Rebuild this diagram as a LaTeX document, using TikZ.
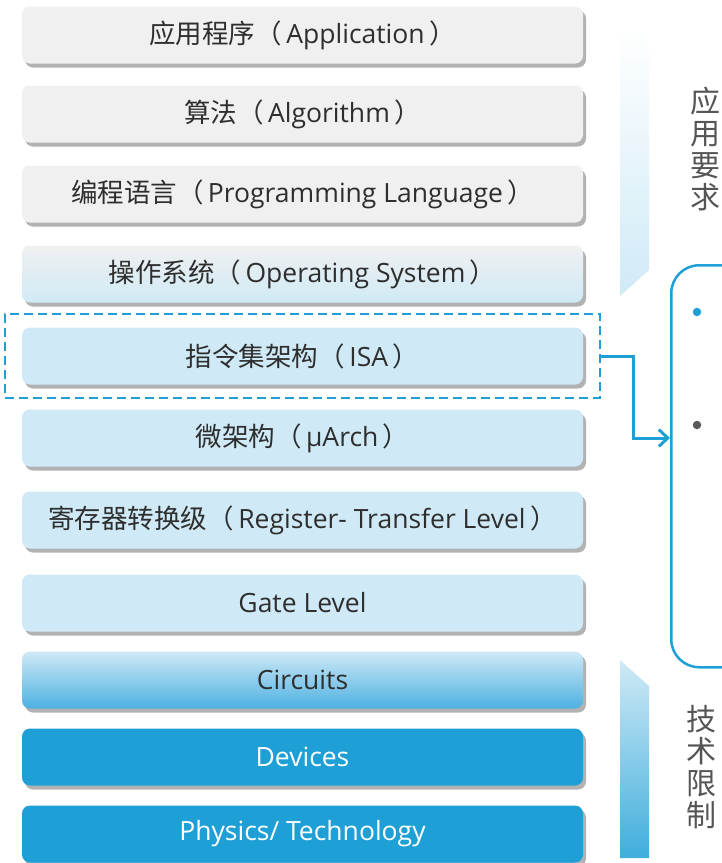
\documentclass[tikz,border=0pt]{standalone}
\usepackage{fontspec}
\setmainfont{Open Sans}
\newfontfamily\cjk{Noto Sans CJK SC}
\usetikzlibrary{shadows,arrows.meta,calc}

\definecolor{txt}{HTML}{2E2E2E}
\definecolor{paleGray}{HTML}{F0F0F0}
\definecolor{paleBlue}{HTML}{CFEAF6}
\definecolor{midBlue}{HTML}{4CB0E1}
\definecolor{deepBlue}{HTML}{1E9FD6}
\definecolor{sideTxt}{HTML}{555555}

\tikzset{
  layer/.style={rounded corners=8pt, minimum width=561pt, minimum height=57pt,
    inner sep=0pt, text=txt, font=\fontsize{26.5}{30}\selectfont,
    drop shadow={shadow xshift=3pt, shadow yshift=-4pt, fill=black, opacity=0.3}},
  graylayer/.style={layer, fill=paleGray},
  bluelayer/.style={layer, fill=paleBlue},
  darklayer/.style={layer, fill=deepBlue, text=white},
  sidetext/.style={text=sideTxt, font=\cjk\fontsize{30}{32}\selectfont, align=center, inner sep=0pt},
  link/.style={draw=deepBlue, line width=3pt},
  dot/.style={circle, inner sep=0pt, minimum size=8.5pt}
}
% Chinese name followed by its English term in full-width brackets
\newcommand{\cnen}[2]{{\cjk #1（}\,#2\,{\cjk ）}}

\begin{document}
\begin{tikzpicture}[x=1pt, y=-1pt]
\useasboundingbox (0,0) rectangle (722,863);
\clip (0,0) rectangle (722,863);

% ---- stack of abstraction layers ----
\node[graylayer] (app) at (302.5,35)  {\cnen{应用程序}{Application}};
\node[graylayer] (alg) at (302.5,114) {\cnen{算法}{Algorithm}};
\node[graylayer] (lang) at (302.5,194) {\cnen{编程语言}{Programming Language}};
\node[layer, top color=paleGray, bottom color=paleBlue] (os) at (302.5,274)
  {\cnen{操作系统}{Operating System}};
\node[bluelayer] (isa) at (302.5,356) {\cnen{指令集架构}{ISA}};
\node[bluelayer] (uarch) at (302.5,438) {\cnen{微架构}{µArch}};
\node[bluelayer] (rtl) at (302.5,520) {\cnen{寄存器转换级}{Register- Transfer Level}};
\node[bluelayer] (gate) at (302.5,603) {Gate Level};
\node[layer, top color=paleBlue, bottom color=midBlue] (circ) at (302.5,680) {Circuits};
\node[darklayer] (dev) at (302.5,757) {Devices};
\node[darklayer] (phys) at (302.5,834) {Physics/ Technology};

% ---- dashed frame round the ISA layer ----
\node[draw=deepBlue, dashed, line width=2pt, dash pattern=on 9pt off 5pt,
      minimum width=595pt, minimum height=84pt, inner sep=0pt] (isaframe) at (302.5,356) {};

% ---- side bars: requirements from above, limits from below ----
\shade[top color=white, bottom color=paleBlue]
  (620,28) -- (649,28) -- (649,270) -- (620,296) -- cycle;
\shade[top color=paleBlue, bottom color=deepBlue!85]
  (620,660) -- (649,686) -- (649,858) -- (620,858) -- cycle;
\node[sidetext] (req) at (705,149) {应\\[0pt]用\\[0pt]要\\[0pt]求};
\node[sidetext] (lim) at (701,767) {技\\[0pt]术\\[0pt]限\\[0pt]制};

% ---- detail panel on the right ----
\node[draw=deepBlue, line width=2.5pt, rounded corners=28pt,
      minimum width=120pt, minimum height=402pt, inner sep=0pt,
      anchor=north west] (panel) at (670,264) {};
\node[dot, fill=deepBlue] (b1) at (697,312) {};
\node[dot, fill=black!65] (b2) at (697,425) {};

% ---- connector from the ISA frame to the panel ----
\coordinate (bend) at ($(isaframe.east)+(32,0)$);
\coordinate (tip) at (panel.west |- uarch);
\draw[link, -{Straight Barb[length=9pt, width=17pt, line width=3pt]}]
  (isaframe.east) -- (bend) -- (bend |- tip) -- (tip);
\end{tikzpicture}
\end{document}
